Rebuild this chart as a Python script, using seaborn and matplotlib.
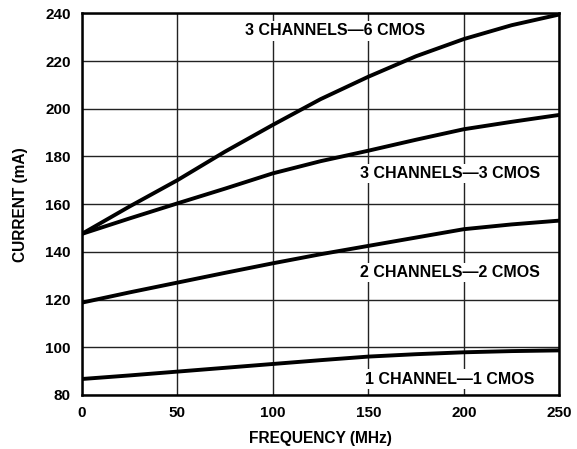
import matplotlib
matplotlib.use("Agg")
import matplotlib.pyplot as plt
import seaborn as sns
import pandas as pd

# Frequency points (MHz)
freq = [0, 25, 50, 75, 100, 125, 150, 175, 200, 225, 250]

# Supply current (mA)
ch3_cmos6 = [147.5, 159.0, 170.0, 182.0, 193.2, 204.0, 213.4, 222.0, 229.2, 235.0, 239.5]
ch3_cmos3 = [147.5, 154.0, 160.3, 166.5, 172.9, 178.0, 182.4, 187.0, 191.4, 194.5, 197.4]
ch2_cmos2 = [118.7, 123.0, 127.1, 131.2, 135.2, 139.0, 142.5, 146.0, 149.5, 151.5, 153.1]
ch1_cmos1 = [86.7, 88.2, 89.8, 91.4, 93.0, 94.6, 96.1, 97.1, 97.9, 98.4, 98.7]

series_names = ["3 CHANNELS\u20146 CMOS", "3 CHANNELS\u20143 CMOS",
                "2 CHANNELS\u20142 CMOS", "1 CHANNEL\u20141 CMOS"]
label_x = [132.6, 192.7, 192.7, 192.8]
label_y = [232.6, 173.0, 131.5, 86.7]

rows = []
for name, vals in zip(series_names, [ch3_cmos6, ch3_cmos3, ch2_cmos2, ch1_cmos1]):
    for f, v in zip(freq, vals):
        rows.append({"freq": f, "current": v, "series": name})
df = pd.DataFrame(rows)

sns.set_style("white")
plt.rcParams["font.family"] = ["Liberation Sans", "DejaVu Sans"]
plt.rcParams["font.weight"] = "bold"
plt.rcParams["text.color"] = "black"
plt.rcParams["axes.labelcolor"] = "black"
plt.rcParams["xtick.color"] = "black"
plt.rcParams["ytick.color"] = "black"

fig = plt.figure(figsize=(5.77, 4.49), dpi=100)
ax = fig.add_axes([81.7 / 577, 1 - 395 / 449, (559.3 - 81.7) / 577, (395 - 13.3) / 449])

sns.lineplot(data=df, x="freq", y="current", units="series", estimator=None,
             color="black", linewidth=2.8, ax=ax, legend=False)

ax.set_xlim(0, 250)
ax.set_ylim(80, 240)
ax.set_xticks(range(0, 251, 50))
ax.set_yticks(range(80, 241, 20))
ax.grid(True, color="#222222", linewidth=1.0)
ax.set_axisbelow(True)
for s in ax.spines.values():
    s.set_visible(True)
    s.set_color("black")
    s.set_linewidth(1.8)
ax.tick_params(axis="both", length=0, labelsize=11, pad=8)
for t in ax.get_xticklabels() + ax.get_yticklabels():
    t.set_fontweight("bold")

ax.set_xlabel("FREQUENCY (MHz)", fontsize=11.2, fontweight="bold", labelpad=8)
ax.set_ylabel("CURRENT (mA)", fontsize=11.2, fontweight="bold", labelpad=12)

for name, lx, ly in zip(series_names, label_x, label_y):
    ax.text(lx, ly, name, ha="center", va="center", fontsize=11.5, fontweight="bold",
            bbox=dict(facecolor="white", edgecolor="none", pad=1.5), zorder=5)

fig.savefig("out.png", dpi=100)
